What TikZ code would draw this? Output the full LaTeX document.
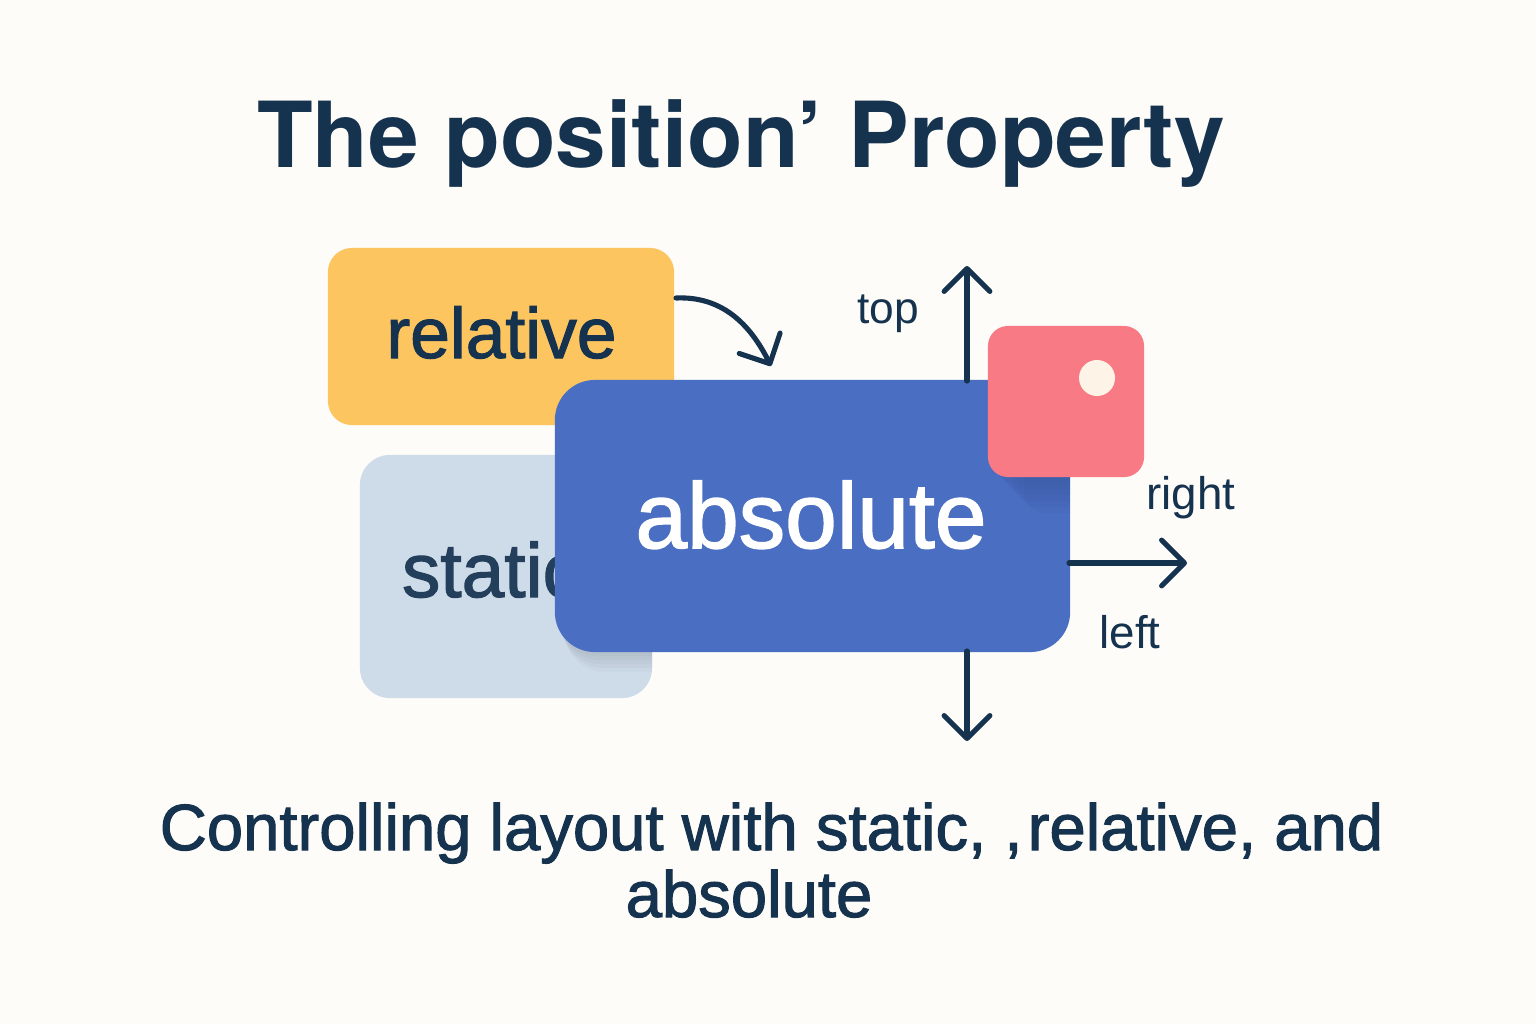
\documentclass[tikz,border=0pt]{standalone}
\usepackage{fontspec}
\setmainfont{Liberation Sans}
\newfontfamily\titlefont{TeX Gyre Heros}
\newfontfamily\medfont[FakeBold=1.6]{Liberation Sans}
\usetikzlibrary{arrows.meta}
\definecolor{bg}{HTML}{FDFCF8}
\definecolor{navy}{HTML}{15324F}
\definecolor{relcol}{HTML}{FCC560}
\definecolor{statcol}{HTML}{CEDCEA}
\definecolor{abscol}{HTML}{4A6EC2}
\definecolor{pinkcol}{HTML}{F87A84}
\definecolor{dotcol}{HTML}{FDF3E6}
\newcommand\pxsize[1]{\fontsize{#1}{#1}\selectfont}
\tikzset{
  boxshape/.style={rectangle, draw=none, inner sep=0, outer sep=0},
  txt/.style={anchor=base, inner sep=0, outer sep=0, text=navy},
  arr/.style={draw=navy, line width=1.45pt, line cap=round,
    -{Straight Barb[length=6.5pt,width=13pt,round]}},
  shade/.style={fill=black, opacity=0.03, draw=none},
}
\begin{document}
\begin{tikzpicture}[x=0.01cm,y=-0.01cm]
  \fill[bg] (0,0) rectangle (1536,1024);
  \useasboundingbox (0,0) rectangle (1536,1024);

  % title
  \node[txt] (title) at (741,167) {\titlefont\bfseries\pxsize{25.9pt}The position’ Property};

  % static box
  \node[boxshape, fill=statcol, rounded corners=0.3cm, minimum width=2.92cm, minimum height=2.43cm] (stat) at (506,576.5) {};
  \node[txt, anchor=base west, text=navy!92!statcol] (stattxt) at (402,597) {\medfont\pxsize{21.8pt}static};

  % relative box
  \node[boxshape, fill=relcol, rounded corners=0.24cm, minimum width=3.46cm, minimum height=1.77cm] (rel) at (501,336.5) {};
  \node[txt] (reltxt) at (501.5,358) {\medfont\pxsize{20.3pt}relative};

  % shadow of absolute box, visible on the static box
  \begin{scope}
    \clip[rounded corners=0.3cm] (360,455) rectangle (652,698);
    \foreach \d in {4,8,12,16,20}{
      \fill[shade, opacity=0.025, rounded corners=0.4cm] (555+\d*0.5,380+\d) rectangle (1070+\d*0.5,652+\d);
    }
  \end{scope}
  % absolute box
  \node[boxshape, fill=abscol, rounded corners=0.4cm, minimum width=5.15cm, minimum height=2.72cm] (abs) at (812.5,516) {};
  \node[txt, text=white] (abstxt) at (811,548) {\medfont\pxsize{26.4pt}absolute};

  % shadow of pink box on absolute box
  \begin{scope}
    \clip[rounded corners=0.4cm] (555,380) rectangle (1070,652);
    \foreach \d in {6,12,18,24,30,36}{
      \fill[shade, opacity=0.018, rounded corners=0.2cm] (988+\d,326+\d) rectangle (1144+\d,477+\d);
    }
  \end{scope}

  % pink box
  \node[boxshape, fill=pinkcol, rounded corners=0.2cm, minimum width=1.56cm, minimum height=1.51cm] (pink) at (1066,401.5) {};
  \node[circle, fill=dotcol, draw=none, inner sep=0, minimum size=0.36cm] (dot) at (1097,378) {};

  % arrows
  \coordinate (curvestart) at (676,298);
  \coordinate (curveend) at (771,366);
  \draw[arr] (curvestart) .. controls (722,296) and (750,324) .. (curveend);

  \coordinate (upstart) at (967,381);
  \coordinate (uptip) at (967,266);
  \draw[arr] (upstart) -- (uptip);

  \coordinate (downstart) at (967,651);
  \coordinate (downtip) at (967,741);
  \draw[arr] (downstart) -- (downtip);

  \coordinate (rightstart) at (1069,563);
  \coordinate (righttip) at (1187,563);
  \draw[arr] (rightstart) -- (righttip);

  % labels
  \node[txt] (toplbl) at (888,323) {\pxsize{12.6pt}top};
  \node[txt] (rightlbl) at (1191,509) {\pxsize{13pt}right};
  \node[txt] (leftlbl) at (1130,648) {\pxsize{13pt}left};

  % subtitle
  \node[txt] (sub1) at (771.5,850) {\medfont\pxsize{18.55pt}Controlling layout with static, ,\hspace{0.08em}relative, and};
  \node[txt] (sub2) at (749,917) {\medfont\pxsize{18.55pt}absolute};
\end{tikzpicture}
\end{document}
